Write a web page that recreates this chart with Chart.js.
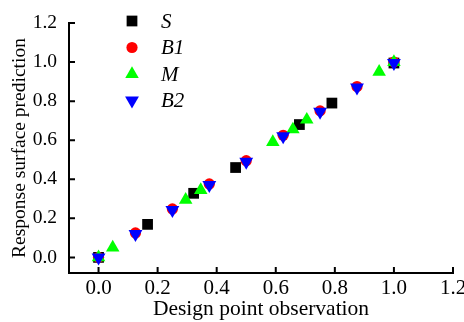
<!DOCTYPE html>
<html>
<head>
<meta charset="utf-8">
<script src="https://cdn.jsdelivr.net/npm/chart.js@4"></script>
<style>
  html, body { margin: 0; padding: 0; background: #fff; }
  #wrap { width: 464px; height: 322px; }
</style>
</head>
<body>
<div id="wrap"><canvas id="myChart" width="464" height="322"></canvas></div>
<script>
// data
const seriesNames = ['S', 'B1', 'M', 'B2'];
const sX  = [0, 0.166, 0.322, 0.464, 0.68, 0.79, 1.0];
const sY  = [0, 0.169, 0.328, 0.46, 0.68, 0.79, 0.995];
const b1X = [0, 0.125, 0.25, 0.375, 0.5, 0.625, 0.75, 0.875, 1.0];
const b1Y = [0, 0.125, 0.248, 0.376, 0.495, 0.625, 0.75, 0.875, 1.0];
const mX  = [0, 0.048, 0.295, 0.346, 0.59, 0.658, 0.705, 0.95, 1.0];
const mY  = [0, 0.05, 0.295, 0.345, 0.59, 0.655, 0.705, 0.95, 1.0];
const b2X = [0, 0.125, 0.25, 0.375, 0.5, 0.625, 0.75, 0.875, 1.0];
const b2Y = [0, 0.12, 0.243, 0.37, 0.49, 0.62, 0.745, 0.87, 0.995];
const xTicks = [0, 0.2, 0.4, 0.6, 0.8, 1.0, 1.2];
const yTicks = [0, 0.2, 0.4, 0.6, 0.8, 1.0, 1.2];

const serif = 'Liberation Serif';

function pts(xs, ys) {
    return xs.map((x, i) => ({x: x, y: ys[i]}));
}

// ticks pointing into the plot
const innerTicks = {
    id: 'innerTicks',
    afterDraw(chart) {
        const c = chart.ctx;
        const xs = chart.scales.x, ys = chart.scales.y;
        c.save();
        c.strokeStyle = '#000';
        c.lineWidth = 2;
        c.beginPath();
        xTicks.forEach(v => {
            const px = xs.getPixelForValue(v);
            c.moveTo(px, xs.top);
            c.lineTo(px, xs.top - 6);
        });
        yTicks.forEach(v => {
            const py = ys.getPixelForValue(v);
            c.moveTo(ys.right, py);
            c.lineTo(ys.right + 6, py);
        });
        c.stroke();
        c.restore();
    }
};

// legend in the top left of the plot
const innerLegend = {
    id: 'innerLegend',
    afterDraw(chart) {
        const c = chart.ctx;
        c.save();
        chart.data.datasets.forEach((ds, i) => {
            const y = 21 + i * 26.5;
            c.fillStyle = ds.backgroundColor;
            c.strokeStyle = ds.backgroundColor;
            Chart.helpers.drawPoint(c, {
                pointStyle: ds.pointStyle,
                radius: ds.pointRadius,
                rotation: ds.rotation || 0,
                borderWidth: 0
            }, 132, y);
            c.fillStyle = '#000';
            c.font = 'italic 21px "' + serif + '"';
            c.textAlign = 'left';
            c.textBaseline = 'middle';
            c.fillText(ds.label, 161, y + 1);
        });
        c.restore();
    }
};

const ctx = document.getElementById('myChart');
new Chart(ctx, {
    type: 'scatter',
    data: {
        datasets: [
            {label: seriesNames[0], data: pts(sX, sY), pointStyle: 'rect', pointRadius: 7.6,
             backgroundColor: '#000000', borderWidth: 0, order: 3},
            {label: seriesNames[1], data: pts(b1X, b1Y), pointStyle: 'circle', pointRadius: 5.6,
             backgroundColor: '#ff0000', borderWidth: 0, order: 2},
            {label: seriesNames[2], data: pts(mX, mY), pointStyle: 'triangle', pointRadius: 7.8,
             backgroundColor: '#00ff00', borderWidth: 0, order: 1},
            {label: seriesNames[3], data: pts(b2X, b2Y), pointStyle: 'triangle', pointRadius: 8,
             rotation: 180, backgroundColor: '#0000ff', borderWidth: 0, order: 0}
        ]
    },
    options: {
        responsive: false,
        animation: false,
        layout: { padding: { top: 23, right: 11, left: 0, bottom: 0 } },
        plugins: {
            legend: { display: false },
            tooltip: { enabled: false }
        },
        elements: { point: { hoverRadius: 0 } },
        scales: {
            x: {
                type: 'linear',
                min: -0.1,
                max: 1.2,
                afterBuildTicks: s => { s.ticks = xTicks.map(v => ({value: v})); },
                afterFit: s => { s.height = 49; s.paddingLeft = 0; s.paddingRight = 0; },
                grid: { display: false, drawTicks: false },
                border: { display: true, color: '#000', width: 2 },
                ticks: {
                    color: '#000',
                    padding: 3,
                    maxRotation: 0,
                    font: { family: serif, size: 21 },
                    callback: v => v.toFixed(1)
                },
                title: {
                    display: true,
                    text: 'Design point observation',
                    color: '#000',
                    padding: { top: 0, bottom: 0 },
                    font: { family: serif, size: 21.5 }
                }
            },
            y: {
                type: 'linear',
                min: -0.08,
                max: 1.2,
                afterBuildTicks: s => { s.ticks = yTicks.map(v => ({value: v})); },
                afterFit: s => { s.width = 69; s.paddingTop = 0; s.paddingBottom = 0; },
                grid: { display: false, drawTicks: false },
                border: { display: true, color: '#000', width: 2 },
                ticks: {
                    color: '#000',
                    padding: 12,
                    font: { family: serif, size: 19.5 },
                    callback: v => v.toFixed(1)
                },
                title: {
                    display: true,
                    text: 'Response surface prediction',
                    color: '#000',
                    padding: { top: 8, bottom: 0 },
                    font: { family: serif, size: 19.5 }
                }
            }
        }
    },
    plugins: [innerTicks, innerLegend]
});
</script>
</body>
</html>
